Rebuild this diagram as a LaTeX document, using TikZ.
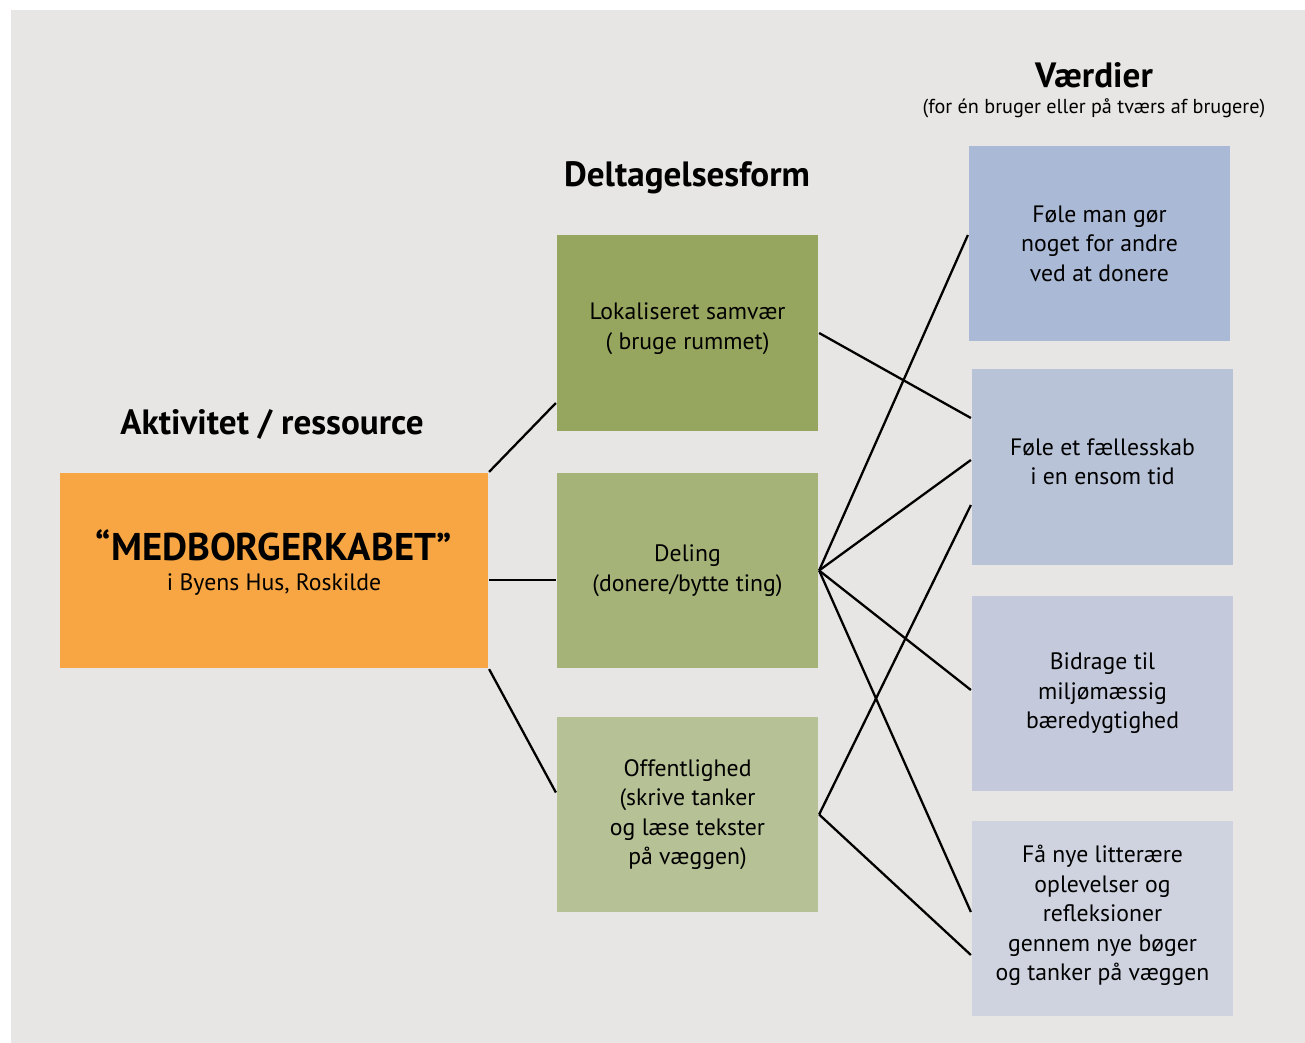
\documentclass[tikz,border=0pt]{standalone}
\usepackage{fontspec}
\setmainfont{PT Sans}
\definecolor{bggray}{HTML}{E7E6E4}
\definecolor{aktorange}{HTML}{F7A643}
\definecolor{greenA}{HTML}{97A65E}
\definecolor{greenB}{HTML}{A6B378}
\definecolor{greenC}{HTML}{B6C195}
\definecolor{blueA}{HTML}{AAB9D5}
\definecolor{blueB}{HTML}{B8C3D8}
\definecolor{blueC}{HTML}{C4CADB}
\definecolor{blueD}{HTML}{CED3DF}

\begin{document}
\begin{tikzpicture}[x=0.02cm,y=-0.02cm,line width=1.3pt]
    \tikzstyle{box}=[rectangle,inner sep=0pt,align=center,minimum width=5.22cm,minimum height=3.91cm,font=\fontsize{13.5}{16.8}\selectfont]
    \tikzstyle{aktivitet}=[box,fill=aktorange,minimum width=8.56cm,minimum height=3.9cm]
    \tikzstyle{title}=[font=\fontsize{20}{24}\selectfont\bfseries]
    \tikzstyle{sub}=[font=\fontsize{11.5}{14}\selectfont]

    % Background
    \fill[white] (0,0) rectangle (1305,1043);
    \fill[bggray] (11,10) rectangle (1305,1043);

    % Draw the activity node
    \node[aktivitet] (A) at (274,570.5)
        {{\fontsize{22}{25}\selectfont\bfseries “MEDBORGERKABET”}\\i Byens Hus, Roskilde\rule[-12pt]{0pt}{0pt}};

    % Draw the participation nodes
    \foreach \name / \y / \col / \txt in {L/333/greenA/{Lokaliseret samvær\\( bruge rummet)\rule[-8pt]{0pt}{0pt}},
                                         D/570.5/greenB/{Deling\\(donere/bytte ting)},
                                         O/814.5/greenC/{Offentlighed\\(skrive tanker\\og læse tekster\\på væggen)}}
        \node[box,fill=\col] (\name) at (687.5,\y) {\txt};

    % Draw the value nodes
    \foreach \name / \x / \y / \col / \txt in {B1/1099.5/243.5/blueA/{Føle man gør\\noget for andre\\ved at donere},
                                              B2/1102.5/467/blueB/{Føle et fællesskab\\i en ensom tid\rule[-6pt]{0pt}{0pt}},
                                              B3/1102.5/693.5/blueC/{Bidrage til\\miljømæssig\\bæredygtighed},
                                              B4/1102.5/918.5/blueD/{Få nye litterære\\oplevelser og\\refleksioner\\gennem nye bøger\\og tanker på væggen\rule[-6pt]{0pt}{0pt}}}
        \node[box,fill=\col] (\name) at (\x,\y) {\txt};

    % Annotate the columns
    \node[title] (hA) at (272,424) {Aktivitet / ressource};
    \node[title] (hD) at (687,178) {Deltagelsesform};
    \node[title] (hB) at (1094,75) {Værdier};
    \node[sub] (hBs) at (1094,108) {(for én bruger eller på tværs af brugere)};

    % Connect the activity with the participation forms
    \draw (A.north east) -- ([yshift=-1.4cm]L.west);
    \draw ([yshift=-0.19cm]A.east) -- ([yshift=-0.19cm]D.west);
    \draw (A.south east) -- ([yshift=0.44cm]O.west);

    % Connect the participation forms with the values
    \draw (L.east) -- ([yshift=0.98cm]B2.west);
    \foreach \dest / \s in {B1/0.17cm,B2/0.14cm,B3/0.07cm,B4/0.13cm}
        \draw (D.east) -- ([yshift=\s]\dest.west);
    \draw (O.east) -- ([yshift=-0.76cm]B2.west);
    \draw (O.east) -- ([yshift=-0.73cm]B4.west);
\end{tikzpicture}
\end{document}
